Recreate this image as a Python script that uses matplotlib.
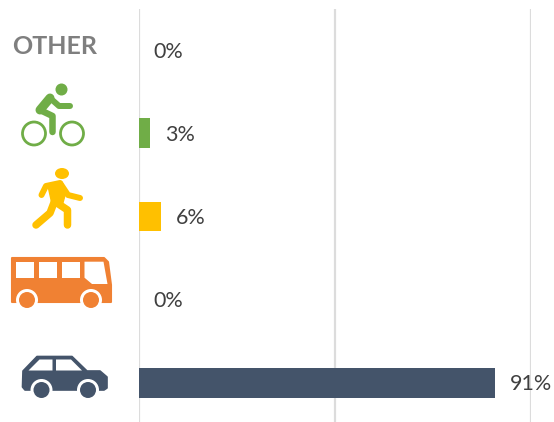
import matplotlib
matplotlib.use("Agg")
import matplotlib.pyplot as plt
from matplotlib.patches import Circle, Ellipse, Polygon

categorias = ["OTHER", "bike", "walk", "bus", "car"]
valores = [0.0, 0.03, 0.057, 0.0, 0.908]
etiquetas = ["0%", "3%", "6%", "0%", "91%"]
colores = ["#7F7F7F", "#70AD47", "#FFC000", "#F08133", "#44546A"]

VERDE, AMARILLO, NARANJA, AZUL = colores[1:]
W, H = 554, 422

plt.rcParams["font.family"] = ["Lato", "DejaVu Sans"]
fig = plt.figure(figsize=(W / 100, H / 100), dpi=100)

# Ejes principales, colocados a mano en pixeles
izq, der, arriba, abajo = 138.5, 531.0, 8.5, 424.5
ax = fig.add_axes([izq / W, 1 - abajo / H, (der - izq) / W, (abajo - arriba) / H])
pos = list(range(len(categorias)))
ax.barh(pos, valores, height=0.36, color=colores, zorder=3)
ax.set_xlim(0, 1)
ax.set_ylim(len(categorias) - 0.5, -0.5)
ax.set_xticks([0, 0.5, 1])
ax.set_yticks([])
ax.tick_params(length=0, labelbottom=False)
ax.grid(axis="x", color="#DCDCDC", linewidth=1.6, zorder=1)
for lado in ax.spines.values():
    lado.set_visible(False)

for p, v, txt in zip(pos, valores, etiquetas):
    ax.annotate(txt, (v, p), xytext=(15, -1.5), textcoords="offset pixels",
                va="center", ha="left", fontsize=15.5, color="#404040",
                annotation_clip=False, zorder=5)

# Capa de iconos en coordenadas de pixel
capa = fig.add_axes([0, 0, 1, 1], facecolor="none")
capa.set_xlim(0, W)
capa.set_ylim(H, 0)
capa.axis("off")

capa.text(54.5, 46, categorias[0], ha="center", va="center", fontsize=18,
          fontweight="bold", color=colores[0])


def trazo(puntos, color, grosor):
    xs, ys = zip(*puntos)
    capa.plot(xs, ys, color=color, linewidth=grosor * 0.72,
              solid_capstyle="round", solid_joinstyle="round")


def rueda(x, y, color):
    capa.add_patch(Circle((x, y), 11, fc="white", ec="none", zorder=3))
    capa.add_patch(Circle((x, y), 8, fc=color, ec="none", zorder=4))


# Bicicleta
capa.add_patch(Circle((61.5, 89.5), 6, fc=VERDE, ec="none"))
capa.add_patch(Circle((34, 133.5), 11.5, fc="none", ec=VERDE, lw=2))
capa.add_patch(Circle((72, 133.5), 11.5, fc="none", ec=VERDE, lw=2))
trazo([(50, 98), (40, 110)], VERDE, 9)
trazo([(40, 110), (52.5, 116), (52.5, 132)], VERDE, 6.5)
trazo([(50, 98), (59, 106), (70, 106)], VERDE, 6)

# Peaton
capa.add_patch(Ellipse((62, 173.5), 14, 11, fc=AMARILLO, ec="none"))
capa.add_patch(Polygon([(48, 186), (62, 182), (66, 192), (62, 206), (52, 204)],
                       fc=AMARILLO, ec=AMARILLO, lw=1, joinstyle="round"))
trazo([(41.5, 195), (46, 186), (60, 183), (68, 195), (80, 198)], AMARILLO, 6)
trazo([(55, 200), (50, 213), (36, 225)], AMARILLO, 7.5)
trazo([(57, 203), (67.5, 210), (67.5, 225)], AMARILLO, 7.5)

# Autobus
capa.add_patch(Polygon([(12, 258), (104, 258), (108, 262), (111, 285), (111, 302), (12, 302)],
                       fc=NARANJA, ec=NARANJA, lw=1.5, joinstyle="round"))
for x0, x1 in [(15.7, 34), (38.5, 56.5), (61.5, 80)]:
    capa.add_patch(Polygon([(x0, 261.7), (x1, 261.7), (x1, 277.7), (x0, 277.7)],
                           fc="white", ec="none", zorder=3))
capa.add_patch(Polygon([(84.5, 261.7), (103.5, 261.7), (107.5, 284), (92, 284), (84.5, 277.7)],
                       fc="white", ec="none", zorder=3))
rueda(27, 300, NARANJA)
rueda(91, 300, NARANJA)

# Coche
capa.add_patch(Polygon([(23, 371), (37, 356.5), (72, 356.5), (87, 371), (100, 371), (107, 377),
                        (107, 388), (104, 390), (25, 390), (22.5, 387)],
                       fc=AZUL, ec=AZUL, lw=1.2, joinstyle="round"))
capa.add_patch(Polygon([(28.5, 370.5), (39.5, 359.5), (52.5, 359.5), (52.5, 370.5)],
                       fc="white", ec="none", zorder=3))
capa.add_patch(Polygon([(56, 359.5), (71, 359.5), (82, 370.5), (56, 370.5)],
                       fc="white", ec="none", zorder=3))
rueda(41.5, 390, AZUL)
rueda(88, 390, AZUL)

fig.savefig("out.png", dpi=100)
